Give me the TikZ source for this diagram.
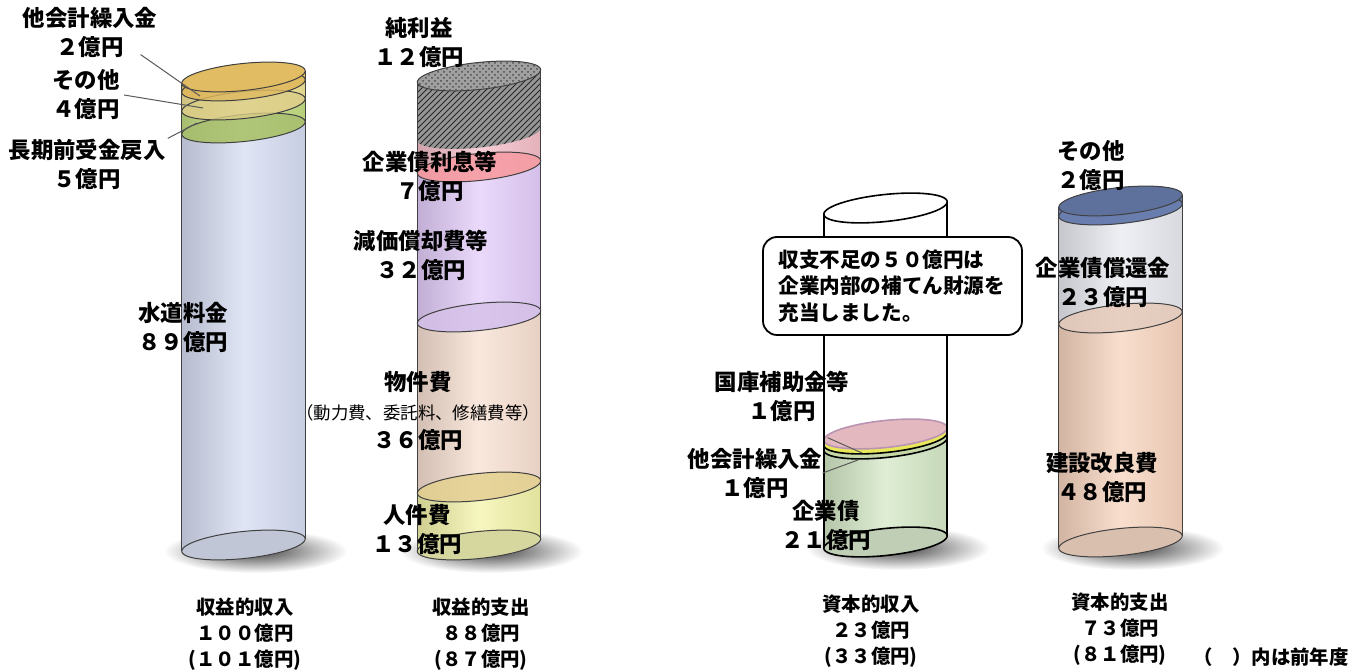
\documentclass[tikz,border=0pt]{standalone}
\usepackage{fontspec}
\setmainfont{Noto Sans CJK JP}
\usetikzlibrary{patterns}

\definecolor{cwater}{RGB}{214,221,242}
\definecolor{clong}{RGB}{196,222,130}
\definecolor{cother}{RGB}{242,228,150}
\definecolor{ctrans}{RGB}{242,202,105}
\definecolor{chatch}{RGB}{150,150,150}
\definecolor{cpink}{RGB}{245,190,200}
\definecolor{clav}{RGB}{228,205,250}
\definecolor{cpeach}{RGB}{248,224,210}
\definecolor{cyel}{RGB}{243,243,170}
\definecolor{csub}{RGB}{232,185,222}
\definecolor{cyel3}{RGB}{232,232,90}
\definecolor{cgreen}{RGB}{212,232,198}
\definecolor{cnavy}{RGB}{105,125,175}
\definecolor{cgrey}{RGB}{232,234,240}
\definecolor{csalmon}{RGB}{247,212,190}

% one tilted ellipse point of a tank at height #1
\newcommand\tankx[1]{#1+62*cos(\t)*cos(6)-13.5*sin(\t)*sin(6)}
\newcommand\tanky[1]{#1-62*cos(\t)*sin(6)-13.5*sin(\t)*cos(6)}
\newcommand\tankband[4]{%
  \path[#4] plot[variable=\t,samples=37,domain=0:180] ({\tankx{#1}},{\tanky{#2}})
    -- plot[variable=\t,samples=37,domain=180:360] ({\tankx{#1}},{\tanky{#3}}) -- cycle;}
\newcommand\tankface[3]{%
  \path[tankline,#3] plot[variable=\t,samples=73,domain=0:360] ({\tankx{#1}},{\tanky{#2}}) -- cycle;}
\newcommand\tanksides[3]{%
  \draw[tankline] ({#1-61.66},{#2+6.48}) -- ({#1-61.66},{#3+6.48})
    ({#1+61.66},{#2-6.48}) -- ({#1+61.66},{#3-6.48});}
\newcommand\tankshadow[2]{%
  \shade[inner color=black!75,outer color=white] ({#1+12},{#2+6}) ellipse [x radius=92,y radius=22];}

\begin{document}
\begin{tikzpicture}[x=0.5pt,y=-0.5pt,
  tankline/.style={draw=black!75,line width=0.5pt},
  tankfill/.style={left color=#1!85!black,right color=#1!93!black,middle color=#1!75!white},
  lbl/.style={font=\fontsize{11.2}{14.5}\selectfont\bfseries,align=center,inner sep=0pt},
  total/.style={font=\fontsize{9.7}{13}\selectfont\bfseries,align=center,inner sep=0pt},
  leader/.style={draw=black!65,line width=0.5pt}]
  \useasboundingbox (0,0) rectangle (1368,672);

  % income (revenue)
  \tankshadow{243.5}{545}
  \tankband{243.5}{128}{545}{tankfill=cwater}
  \tankband{243.5}{105}{128}{tankfill=clong}
  \tankband{243.5}{86}{105}{tankfill=cother}
  \tankband{243.5}{77}{86}{tankfill=ctrans}
  \tankface{243.5}{545}{fill=cwater!75!gray}
  \tankface{243.5}{128}{fill=clong!85!black,fill opacity=.8}
  \tankface{243.5}{105}{fill=cother!90!black,fill opacity=.8}
  \tankface{243.5}{86}{fill=ctrans!92!black,fill opacity=.8}
  \tankface{243.5}{77}{fill=ctrans!93!black}
  \tanksides{243.5}{77}{545}

  % expenses (revenue)
  \tankshadow{479}{545}
  \tankband{479}{487}{545}{tankfill=cyel}
  \tankband{479}{317}{487}{tankfill=cpeach}
  \tankband{479}{167}{317}{tankfill=clav}
  \tankband{479}{134}{167}{tankfill=cpink}
  \tankface{479}{545}{fill=cyel!75!gray}
  \tankface{479}{487}{fill=cyel!70!brown,fill opacity=.8}
  \tankface{479}{317}{fill=clav!85!gray,fill opacity=.8}
  \tankface{479}{167}{fill=cpink!80!red,fill opacity=.8}
  \tankband{479}{76}{134}{fill=chatch,postaction={pattern=north east lines,pattern color=black!85}}
  \tankface{479}{76}{fill=chatch!90,postaction={pattern=crosshatch dots,pattern color=black!70}}
  \tanksides{479}{76}{545}

  % income (capital)
  \begin{scope}[tankline/.style={draw=black,line width=0.8pt}]
  \tankshadow{885.5}{542}
  \tankband{885.5}{444}{542}{tankfill=cgreen}
  \tankband{885.5}{439}{444}{fill=cyel3}
  \tankband{885.5}{434}{439}{fill=csub}
  \tankband{885.5}{208}{434}{fill=white}
  \tankface{885.5}{542}{fill=cgreen!75!gray}
  \tankface{885.5}{444}{fill=cgreen!85!olive}
  \tankface{885.5}{439}{fill=cyel3}
  \tankface{885.5}{434}{fill=csub!70!brown!80,draw=csub!80!black}
  \tankface{885.5}{208}{fill=white}
  \tanksides{885.5}{208}{542}
  \end{scope}
  \node[draw=black,line width=0.9pt,fill=white,rounded corners=7pt,
    minimum width=129.5pt,minimum height=49pt,text width=114pt,align=left,
    font=\fontsize{10.3}{13.3}\selectfont\bfseries] (gap) at (892.5,286)
    {収支不足の５０億円は\\企業内部の補てん財源を\\充当しました。};

  % expenses (capital)
  \tankshadow{1120.5}{542}
  \tankband{1120.5}{318}{542}{tankfill=csalmon}
  \tankband{1120.5}{210}{318}{tankfill=cgrey}
  \tankband{1120.5}{201}{210}{fill=cnavy}
  \tankface{1120.5}{542}{fill=csalmon!75!gray}
  \tankface{1120.5}{318}{fill=csalmon!85!gray,fill opacity=.8}
  \tankface{1120.5}{210}{fill=cnavy}
  \tankface{1120.5}{201}{fill=cnavy!90!black}
  \tanksides{1120.5}{201}{542}

  % labels
  \node[lbl] (trans1) at (90,32) {他会計繰入金\\２億円};
  \node[lbl] (other1) at (86,95) {その他\\４億円};
  \node[lbl] (long1) at (87,164) {長期前受金戻入\\５億円};
  \node[lbl] (water) at (183,327) {水道料金\\８９億円};
  \coordinate (trans1end) at (200,96);
  \coordinate (other1end) at (203,108);
  \coordinate (long1end) at (197,123);
  \draw[leader] ([xshift=-8.5pt,yshift=1.5pt]trans1.south east) -- (trans1end);
  \draw[leader] ([xshift=2pt]other1.east) -- (other1end);
  \draw[leader] ([xshift=1pt]long1.north east) -- (long1end);

  \node[lbl] (profit) at (419,42) {純利益\\１２億円};
  \node[lbl] (interest) at (430,176) {企業債利息等\\７億円};
  \node[lbl] (deprec) at (421,255) {減価償却費等\\３２億円};
  \node[lbl] (goods) at (418,411) {物件費\\{\mdseries\fontsize{8.7}{10}\selectfont （動力費、委託料、修繕費等）}\\３６億円};
  \node[lbl] (staff) at (417,529) {人件費\\１３億円};

  \node[lbl] (subsidy) at (782,396) {国庫補助金等\\１億円};
  \node[lbl] (trans3) at (755,473) {他会計繰入金\\１億円};
  \node[lbl] (bond) at (826,525) {企業債\\２１億円};
  \coordinate (subsidyend) at (862,453);
  \coordinate (trans3end) at (858,460);
  \draw[leader] ([xshift=-11pt,yshift=-8pt]subsidy.south east) -- (subsidyend);
  \draw[leader] (trans3.east) -- (trans3end);

  \node[lbl] (other4) at (1091,166) {その他\\２億円};
  \node[lbl] (redeem) at (1103,282) {企業債償還金\\２３億円};
  \node[lbl] (build) at (1102,477) {建設改良費\\４８億円};

  % totals
  \node[total] (inc1) at (245,634) {収益的収入\\１００億円\\(１０１億円)};
  \node[total] (exp1) at (481,634) {収益的支出\\８８億円\\(８７億円)};
  \node[total] (inc2) at (871,631) {資本的収入\\２３億円\\(３３億円)};
  \node[total] (exp2) at (1120,629) {資本的支出\\７３億円\\(８１億円)};
  \node[total] (prev) at (1271,657) {（　）内は前年度};
\end{tikzpicture}
\end{document}
